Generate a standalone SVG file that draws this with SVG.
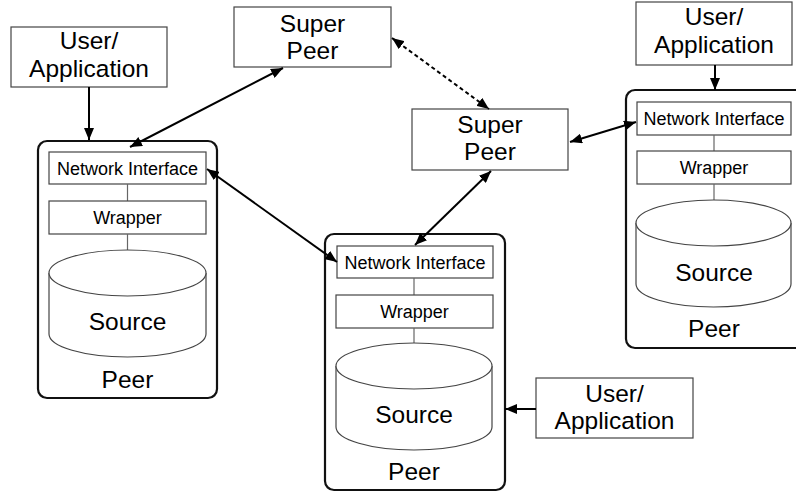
<svg xmlns="http://www.w3.org/2000/svg" width="796" height="493" viewBox="0 0 796 493">
  <defs>
    <marker id="head" viewBox="0 0 12 10" refX="12" refY="5" markerWidth="12" markerHeight="10" markerUnits="userSpaceOnUse" orient="auto-start-reverse">
      <path d="M0,0 L12,5 L0,10 Z" fill="#000"/>
    </marker>
    <style>
      .box { fill: #fff; stroke: #444; stroke-width: 1.2; }
      .peer { fill: #fff; stroke: #111; stroke-width: 2.2; }
      .link { stroke: #666; stroke-width: 1.2; }
      .edge { fill: none; stroke: #000; stroke-width: 2; }
      .dash { stroke-dasharray: 4 3; }
      text { font-family: "Liberation Sans", Arial, sans-serif; fill: #000; text-anchor: middle; }
      .big { font-size: 24.5px; }
      .small { font-size: 18px; }
    </style>
  </defs>

  <!-- left peer -->
  <g id="peer-left">
    <rect class="peer" x="38" y="141" width="179" height="257" rx="9"/>
    <rect class="box" x="49" y="152" width="157" height="32"/>
    <text class="small" x="127.5" y="175">Network Interface</text>
    <line class="link" x1="127.5" y1="184" x2="127.5" y2="201"/>
    <rect class="box" x="49" y="201" width="157" height="33"/>
    <text class="small" x="127.5" y="224">Wrapper</text>
    <line class="link" x1="127.5" y1="234" x2="127.5" y2="250"/>
    <path class="box" d="M49,273 A78.5,23 0 0 1 206,273 L206,334 A78.5,23 0 0 1 49,334 Z"/>
    <path class="box" d="M49,273 A78.5,23 0 0 0 206,273" fill="none"/>
    <text class="big" x="127.5" y="330">Source</text>
    <text class="big" x="127.5" y="388">Peer</text>
  </g>

  <!-- middle peer -->
  <g id="peer-middle">
    <rect class="peer" x="325" y="234" width="180" height="256" rx="9"/>
    <rect class="box" x="337" y="246" width="156" height="32"/>
    <text class="small" x="415" y="269">Network Interface</text>
    <line class="link" x1="414" y1="278" x2="414" y2="295"/>
    <rect class="box" x="336" y="295" width="157" height="33"/>
    <text class="small" x="414.5" y="318">Wrapper</text>
    <line class="link" x1="414" y1="328" x2="414" y2="343"/>
    <path class="box" d="M336,366 A78,23 0 0 1 492,366 L492,427 A78,23 0 0 1 336,427 Z"/>
    <path class="box" d="M336,366 A78,23 0 0 0 492,366" fill="none"/>
    <text class="big" x="414" y="423">Source</text>
    <text class="big" x="414" y="480">Peer</text>
  </g>

  <!-- right peer -->
  <g id="peer-right">
    <rect class="peer" x="626" y="90" width="182" height="258" rx="9"/>
    <rect class="box" x="637" y="102" width="154" height="33"/>
    <text class="small" x="714" y="125">Network Interface</text>
    <line class="link" x1="714" y1="135" x2="714" y2="151"/>
    <rect class="box" x="637" y="151" width="154" height="33"/>
    <text class="small" x="714" y="174">Wrapper</text>
    <line class="link" x1="714" y1="184" x2="714" y2="200"/>
    <path class="box" d="M636,223 A77.5,23 0 0 1 791,223 L791,284 A77.5,23 0 0 1 636,284 Z"/>
    <path class="box" d="M636,223 A77.5,23 0 0 0 791,223" fill="none"/>
    <text class="big" x="714" y="281">Source</text>
    <text class="big" x="714" y="337">Peer</text>
  </g>

  <!-- super peers -->
  <g id="super-peer-top">
    <rect class="box" x="234" y="7" width="157" height="60"/>
    <text class="big" x="312.5" y="32">Super</text>
    <text class="big" x="312.5" y="59">Peer</text>
  </g>
  <g id="super-peer-middle">
    <rect class="box" x="412" y="109" width="156" height="61"/>
    <text class="big" x="490" y="133">Super</text>
    <text class="big" x="490" y="160">Peer</text>
  </g>

  <!-- users / applications -->
  <g id="user-left">
    <rect class="box" x="11" y="27" width="156" height="60"/>
    <text class="big" x="89" y="49">User/</text>
    <text class="big" x="89" y="77">Application</text>
  </g>
  <g id="user-right">
    <rect class="box" x="636" y="2" width="156" height="63"/>
    <text class="big" x="714" y="25">User/</text>
    <text class="big" x="714" y="53">Application</text>
  </g>
  <g id="user-bottom">
    <rect class="box" x="536" y="378" width="157" height="60"/>
    <text class="big" x="614.5" y="402">User/</text>
    <text class="big" x="614.5" y="429">Application</text>
  </g>

  <!-- connectors -->
  <g id="connectors">
    <line class="edge" x1="89" y1="87" x2="89" y2="140" marker-end="url(#head)"/>
    <line class="edge" x1="715" y1="65" x2="715" y2="90" marker-end="url(#head)"/>
    <line class="edge" x1="536" y1="409" x2="505" y2="409" marker-end="url(#head)"/>
    <line class="edge" x1="130" y1="147" x2="283" y2="68" marker-start="url(#head)" marker-end="url(#head)"/>
    <line class="edge" x1="207" y1="169" x2="337" y2="262" marker-start="url(#head)" marker-end="url(#head)"/>
    <line class="edge dash" x1="392" y1="38" x2="489" y2="109" marker-start="url(#head)" marker-end="url(#head)"/>
    <line class="edge" x1="570" y1="142" x2="636" y2="122" marker-start="url(#head)" marker-end="url(#head)"/>
    <line class="edge" x1="491" y1="171" x2="415" y2="245" marker-start="url(#head)" marker-end="url(#head)"/>
  </g>
</svg>
